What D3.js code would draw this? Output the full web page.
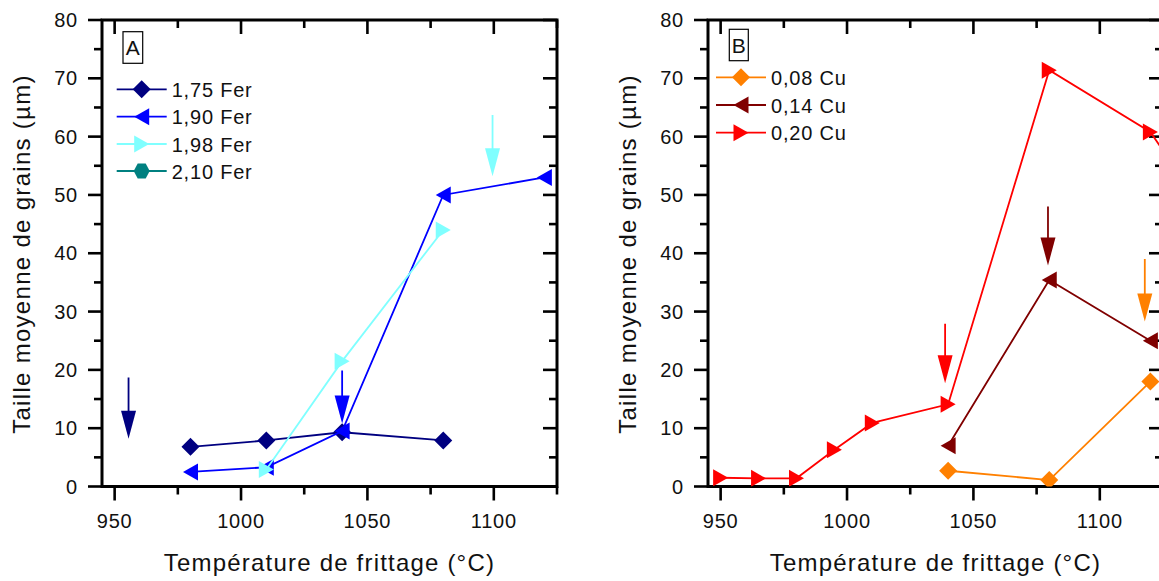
<!DOCTYPE html>
<html><head><meta charset="utf-8">
<script src="https://cdn.jsdelivr.net/npm/d3@7"></script>
<style>
body{margin:0;background:#fff;}
text{font-family:"Liberation Sans",Arial,sans-serif;fill:#111;}
</style></head>
<body><svg id="c" width="1159" height="581"></svg>
<script>
// ---- data ----
const xTicks = [950, 1000, 1050, 1100];
const yTicks = [0, 10, 20, 30, 40, 50, 60, 70, 80];
const xTitle = "Température de frittage (°C)";
const yTitle = "Taille moyenne de grains (µm)";

// Panel A
const fer175 = [[980, 6.8], [1010, 7.9], [1040, 9.3], [1080, 7.9]];
const fer190 = [[980, 2.5], [1010, 3.3], [1040, 9.5], [1080, 50], [1120, 53]];
const fer198 = [[1010, 2.9], [1040, 21.5], [1080, 44]];
const fer210 = [];
const namesA = ["1,75 Fer", "1,90 Fer", "1,98 Fer", "2,10 Fer"];
const colorsA = ["#000080", "#0000ff", "#80ffff", "#008080"];
const shapesA = ["diamond", "left", "right", "hex"];
const arrowsA = [[955.5, 18.7, 8.2, "#000080"], [1040, 19.9, 10.8, "#0000ff"], [1099.5, 63.7, 53.2, "#80ffff"]];

// Panel B
const cu008 = [[1040, 2.7], [1080, 1.1], [1120, 18]];
const cu014 = [[1040, 7], [1080, 35.4], [1120, 25]];
const cu020 = [[950, 1.5], [965, 1.4], [980, 1.4], [995, 6.3], [1010, 10.9], [1040, 14.1], [1080, 71.4], [1120, 60.8], [1140, 48]];
const namesB = ["0,08 Cu", "0,14 Cu", "0,20 Cu"];
const colorsB = ["#ff8000", "#800000", "#ff0000"];
const shapesB = ["diamond", "left", "right"];
const arrowsB = [[1038.8, 27.9, 17.7, "#ff0000"], [1079.5, 48, 37.9, "#800000"], [1117.8, 39, 28.3, "#ff8000"]];

const svg = d3.select("#c");

function markerPath(shape) {
  switch (shape) {
    case "diamond": return "M0,-9L9,0L0,9L-9,0Z";
    case "left": return "M-7.5,0L7.5,-8.5L7.5,8.5Z";
    case "right": return "M7.5,0L-7.5,-8.5L-7.5,8.5Z";
    case "hex": return "M8,0L4,-7.5L-4,-7.5L-8,0L-4,7.5L4,7.5Z";
  }
}

function panel(o) {
  const x = d3.scaleLinear().domain([945, 1125]).range([o.left, o.left + 455]);
  const y = d3.scaleLinear().domain([0, 80]).range([486.5, 20]);
  const g = svg.append("g");
  const clipId = "clip" + o.id;
  svg.append("clipPath").attr("id", clipId).append("rect")
    .attr("x", o.left).attr("y", 20).attr("width", 455).attr("height", 466.5);

  // frame
  g.append("rect").attr("x", o.left).attr("y", 20).attr("width", 455).attr("height", 466.5)
    .attr("fill", "none").attr("stroke", "#000").attr("stroke-width", 3);

  const minorX = d3.range(975, 1126, 50);
  const minorY = d3.range(5, 80, 10);
  const tk = (sel) => sel.attr("stroke", "#000").attr("stroke-width", 2.6);
  // bottom (out) & top (in)
  xTicks.forEach(v => {
    tk(g.append("line").attr("x1", x(v)).attr("x2", x(v)).attr("y1", y(0)).attr("y2", y(0) + 14));
    tk(g.append("line").attr("x1", x(v)).attr("x2", x(v)).attr("y1", y(80)).attr("y2", y(80) + 14));
  });
  minorX.forEach(v => {
    tk(g.append("line").attr("x1", x(v)).attr("x2", x(v)).attr("y1", y(0)).attr("y2", y(0) + 8));
    tk(g.append("line").attr("x1", x(v)).attr("x2", x(v)).attr("y1", y(80)).attr("y2", y(80) + 8));
  });
  yTicks.forEach(v => {
    tk(g.append("line").attr("x1", o.left - 14).attr("x2", o.left).attr("y1", y(v)).attr("y2", y(v)));
    tk(g.append("line").attr("x1", o.left + 455 - 14).attr("x2", o.left + 455).attr("y1", y(v)).attr("y2", y(v)));
  });
  minorY.forEach(v => {
    tk(g.append("line").attr("x1", o.left - 8).attr("x2", o.left).attr("y1", y(v)).attr("y2", y(v)));
    tk(g.append("line").attr("x1", o.left + 455 - 8).attr("x2", o.left + 455).attr("y1", y(v)).attr("y2", y(v)));
  });
  // tick labels
  g.selectAll(".xl").data(xTicks).enter().append("text")
    .attr("x", d => x(d)).attr("y", 528).attr("text-anchor", "middle")
    .style("font-size", "20px").style("letter-spacing", "0.8px").text(d => d);
  g.selectAll(".yl").data(yTicks).enter().append("text")
    .attr("x", o.left - 24).attr("y", d => y(d) + 7).attr("text-anchor", "end")
    .style("font-size", "20px").style("letter-spacing", "0.8px").text(d => d);
  // titles
  g.append("text").attr("x", o.left + 227.5).attr("y", 571).attr("text-anchor", "middle")
    .style("font-size", "24px").style("letter-spacing", "1.2px").text(xTitle);
  g.append("text").attr("transform", `translate(${o.left - 72},254) rotate(-90)`).attr("text-anchor", "middle")
    .style("font-size", "24px").style("letter-spacing", "1.3px").text(yTitle);

  // series
  const line = d3.line().x(d => x(d[0])).y(d => y(d[1]));
  const plot = g.append("g").attr("clip-path", `url(#${clipId})`);
  o.series.forEach((s, i) => {
    if (!s.length) return;
    plot.append("path").datum(s).attr("d", line).attr("fill", "none")
      .attr("stroke", o.colors[i]).attr("stroke-width", 1.8);
    plot.selectAll(null).data(s).enter().append("path")
      .attr("d", markerPath(o.shapes[i]))
      .attr("transform", d => `translate(${x(d[0])},${y(d[1])})`)
      .attr("fill", o.colors[i]);
  });
  // arrows
  o.arrows.forEach(a => {
    const xp = x(a[0]), y1 = y(a[1]), y2 = y(a[2]);
    plot.append("line").attr("x1", xp).attr("x2", xp).attr("y1", y1).attr("y2", y2 - 20)
      .attr("stroke", a[3]).attr("stroke-width", 1.8);
    plot.append("path").attr("d", `M${xp},${y2}L${xp - 7.5},${y2 - 28}L${xp + 7.5},${y2 - 28}Z`)
      .attr("fill", a[3]);
  });

  // label box
  g.append("rect").attr("x", o.box[0]).attr("y", o.box[1]).attr("width", o.box[2]).attr("height", o.box[3])
    .attr("fill", "#fff").attr("stroke", "#000").attr("stroke-width", 1.2);
  g.append("text").attr("x", o.box[0] + o.box[2] / 2).attr("y", o.box[1] + o.box[3] - 8)
    .attr("text-anchor", "middle").style("font-size", "21px").text(o.label);

  // legend
  o.names.forEach((n, i) => {
    const ly = o.legY[i];
    g.append("line").attr("x1", o.legX).attr("x2", o.legX + 50).attr("y1", ly).attr("y2", ly)
      .attr("stroke", o.colors[i]).attr("stroke-width", 1.8);
    g.append("path").attr("d", markerPath(o.shapes[i]))
      .attr("transform", `translate(${o.legX + 25},${ly})`).attr("fill", o.colors[i]);
    g.append("text").attr("x", o.legX + 55).attr("y", ly + 7.5)
      .style("font-size", "20px").style("letter-spacing", "0.8px").text(n);
  });
}

panel({
  id: "A", left: 102, label: "A", box: [123, 31.7, 19.7, 31.6],
  series: [fer175, fer190, fer198, fer210], names: namesA, colors: colorsA, shapes: shapesA,
  arrows: arrowsA, legX: 116.7, legY: [89.3, 116.7, 144, 171]
});
panel({
  id: "B", left: 708, label: "B", box: [729.3, 29.3, 19, 31.4],
  series: [cu008, cu014, cu020], names: namesB, colors: colorsB, shapes: shapesB,
  arrows: arrowsB, legX: 716, legY: [77.3, 105, 132.7]
});
</script></body></html>
